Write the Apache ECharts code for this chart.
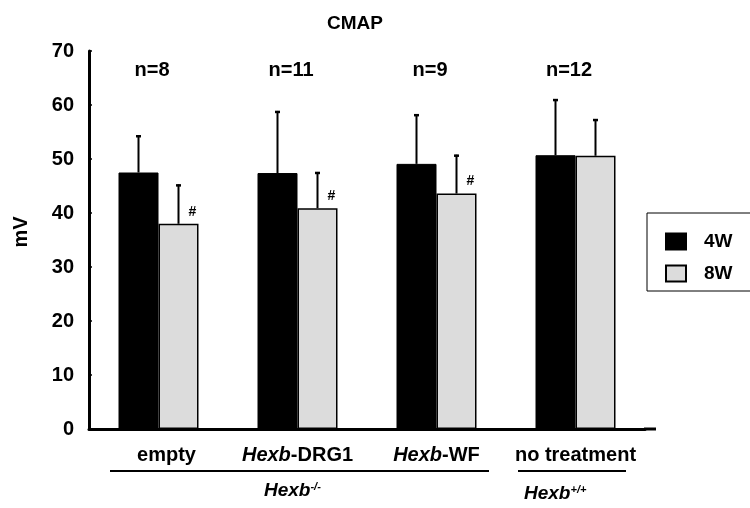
<!DOCTYPE html>
<html>
<head>
<meta charset="utf-8">
<script src="https://cdn.jsdelivr.net/npm/echarts@6/dist/echarts.min.js"></script>
<style>
  html, body { margin: 0; padding: 0; background: #fff; }
  #chart { width: 750px; height: 508px; }
</style>
</head>
<body>
<div id="chart"></div>
<script>
// data
const categories = ['empty', 'Hexb-DRG1', 'Hexb-WF', 'no treatment']
const nLabels = ['n=8', 'n=11', 'n=9', 'n=12']
const mean4W = [47.5, 47.4, 49.1, 50.7]
const sd4W = [6.9, 11.5, 9.2, 10.4]
const mean8W = [38.0, 40.9, 43.6, 50.6]
const sd8W = [7.3, 6.7, 7.2, 6.8]
const sig8W = ['#', '#', '#', '']

const FONT = '"Liberation Sans", Arial, sans-serif'
const BAR_W = 40

const chart = echarts.init(document.getElementById('chart'))

// error bar (upper only) drawn on top of each bar
const errorSeries = (means, sds, marks, offset) => ({
  type: 'custom',
  xAxisIndex: 0,
  yAxisIndex: 0,
  z: 5,
  clip: false,
  silent: true,
  encode: { x: 0, y: [1, 2] },
  data: means.map((m, i) => [i, m, m + sds[i]]),
  renderItem: (params, api) => {
    const idx = api.value(0)
    const base = api.coord([idx, api.value(1)])
    const tip = api.coord([idx, api.value(2)])
    const x = base[0] + offset
    const children = [
      { type: 'line', shape: { x1: x, y1: base[1], x2: x, y2: tip[1] }, style: { stroke: '#000', lineWidth: 2 } },
      { type: 'line', shape: { x1: x - 2.5, y1: tip[1] + 1, x2: x + 2.5, y2: tip[1] + 1 }, style: { stroke: '#000', lineWidth: 2.5 } }
    ]
    if (marks && marks[idx]) {
      children.push({
        type: 'text',
        style: {
          text: marks[idx], x: x + 14, y: base[1] - 12,
          align: 'center', verticalAlign: 'middle',
          font: 'bold 14px ' + FONT, fill: '#000'
        }
      })
    }
    return { type: 'group', children }
  }
})

const catFormatter = (v) => {
  if (v.startsWith('Hexb')) return '{i|Hexb}{b|' + v.slice(4) + '}'
  if (v === 'empty') return '{e|' + v + '}'
  return '{b|' + v + '}'
}

const lbl = { fontFamily: FONT, fontWeight: 'bold', fontSize: 20, color: '#000' }

const option = {
  backgroundColor: '#fff',
  animation: false,
  title: {
    text: 'CMAP',
    left: 322,
    top: 9,
    textStyle: { fontFamily: FONT, fontWeight: 'bold', fontSize: 19, color: '#000' }
  },
  legend: {
    orient: 'vertical',
    left: 647,
    top: 213,
    padding: [19, 40, 8, 18],
    itemGap: 13,
    itemWidth: 20,
    itemHeight: 16,
    icon: 'rect',
    borderColor: '#000',
    borderWidth: 1,
    data: ['4W', '8W'],
    textStyle: { fontFamily: FONT, fontWeight: 'bold', fontSize: 19, color: '#000', padding: [0, 0, 0, 13] }
  },
  grid: { left: 89, top: 51, width: 556, height: 378 },
  xAxis: [
    {
      type: 'category',
      data: categories,
      axisLine: { lineStyle: { color: '#000', width: 3 } },
      axisTick: { inside: true, length: 3, lineStyle: { color: '#000', width: 1.5 } },
      axisLabel: {
        margin: 16,
        formatter: catFormatter,
        rich: {
          b: lbl,
          e: Object.assign({}, lbl, { padding: [0, 0, 0, 16] }),
          i: Object.assign({}, lbl, { fontStyle: 'italic' })
        }
      }
    },
    {
      type: 'category',
      position: 'top',
      data: nLabels,
      axisLine: { show: false },
      axisTick: { show: false },
      axisLabel: Object.assign({ inside: true, margin: 9, padding: [0, 13, 0, 0] }, lbl)
    }
  ],
  yAxis: {
    type: 'value',
    min: 0,
    max: 70,
    interval: 10,
    name: 'mV',
    nameLocation: 'middle',
    nameGap: 58,
    nameRotate: 90,
    nameTextStyle: Object.assign({}, lbl, { padding: [0, 0, 0, 16] }),
    splitLine: { show: false },
    axisLine: { show: true, lineStyle: { color: '#000', width: 3 } },
    axisTick: { show: true, inside: true, length: 3, lineStyle: { color: '#000', width: 1.5 } },
    axisLabel: Object.assign({ margin: 15 }, lbl)
  },
  series: [
    {
      name: '4W',
      type: 'bar',
      data: mean4W,
      barWidth: BAR_W,
      barGap: '0%',
      itemStyle: { color: '#000', borderColor: '#000', borderWidth: 1 }
    },
    {
      name: '8W',
      type: 'bar',
      data: mean8W,
      barWidth: BAR_W,
      barGap: '0%',
      itemStyle: { color: '#dcdcdc', borderColor: '#000', borderWidth: 1.5 }
    },
    errorSeries(mean4W, sd4W, null, -BAR_W / 2),
    errorSeries(mean8W, sd8W, sig8W, BAR_W / 2)
  ],
  graphic: [
    // axis line runs a little past the last category
    { type: 'line', shape: { x1: 644, y1: 429, x2: 656, y2: 429 }, style: { stroke: '#000', lineWidth: 3 } },
    { type: 'line', shape: { x1: 110, y1: 471, x2: 489, y2: 471 }, style: { stroke: '#000', lineWidth: 2 } },
    { type: 'line', shape: { x1: 518, y1: 471, x2: 626, y2: 471 }, style: { stroke: '#000', lineWidth: 2 } },
    {
      type: 'text',
      left: 264,
      top: 481,
      style: {
        text: '{i|Hexb}{s|-/-}',
        rich: {
          i: Object.assign({}, lbl, { fontStyle: 'italic', fontSize: 19 }),
          s: Object.assign({}, lbl, { fontStyle: 'italic', fontSize: 11, verticalAlign: 'top' })
        }
      }
    },
    {
      type: 'text',
      left: 524,
      top: 484,
      style: {
        text: '{i|Hexb}{s|+/+}',
        rich: {
          i: Object.assign({}, lbl, { fontStyle: 'italic', fontSize: 19 }),
          s: Object.assign({}, lbl, { fontStyle: 'italic', fontSize: 11, verticalAlign: 'top' })
        }
      }
    }
  ]
}

chart.setOption(option)
</script>
</body>
</html>
